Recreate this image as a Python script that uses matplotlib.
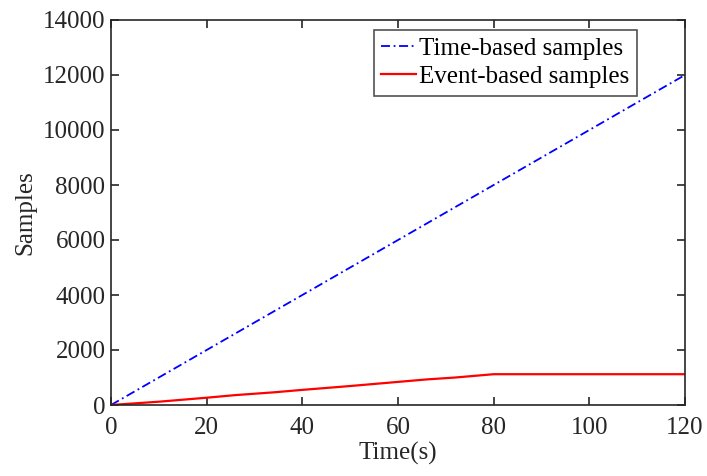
import matplotlib
matplotlib.use("Agg")
import matplotlib.pyplot as plt

plt.rcParams['font.family'] = ['Liberation Serif', 'DejaVu Serif']

time_x = [0, 120]
time_samples = [0, 12000]
event_t = [0, 10, 20, 26, 34, 40, 50, 60, 66, 72, 80, 120]
event_samples = [0, 120, 265, 360, 460, 550, 690, 840, 930, 1000, 1120, 1120]
xticks = [0, 20, 40, 60, 80, 100, 120]
yticks = [0, 2000, 4000, 6000, 8000, 10000, 12000, 14000]

fig = plt.figure(figsize=(7.07, 4.76), dpi=100)
ax = fig.add_axes([111/707, 71/476, 574/707, 385/476])
ax.plot(time_x, time_samples, color='#0000ff', linestyle=(0, (5, 2, 1, 2)), linewidth=1.3, label='Time-based samples')
ax.plot(event_t, event_samples, color='#ff0000', linestyle='-', linewidth=1.6, label='Event-based samples')
ax.set_xlim(0, 120)
ax.set_ylim(0, 14000)
ax.set_xticks(xticks)
ax.set_yticks(yticks)
ax.tick_params(direction='in', top=True, right=True, labelsize=18, length=6, width=1.2, colors='#262626', pad=4)
ax.tick_params(axis='x', pad=9)
for s in ax.spines.values():
    s.set_linewidth(1.2)
    s.set_color('#262626')
ax.set_xlabel('Time(s)', fontsize=18, color='#262626', labelpad=2)
ax.set_ylabel('Samples', fontsize=18, color='#262626', labelpad=5)
leg = ax.legend(loc='upper right', bbox_to_anchor=(0.916, 0.974), fontsize=18, frameon=True,
                fancybox=False, edgecolor='#262626', handlelength=1.4, handletextpad=0.12,
                borderpad=0.3, labelspacing=0.22, borderaxespad=0)
leg.get_frame().set_linewidth(1.2)
fig.savefig('out.png', dpi=100)
